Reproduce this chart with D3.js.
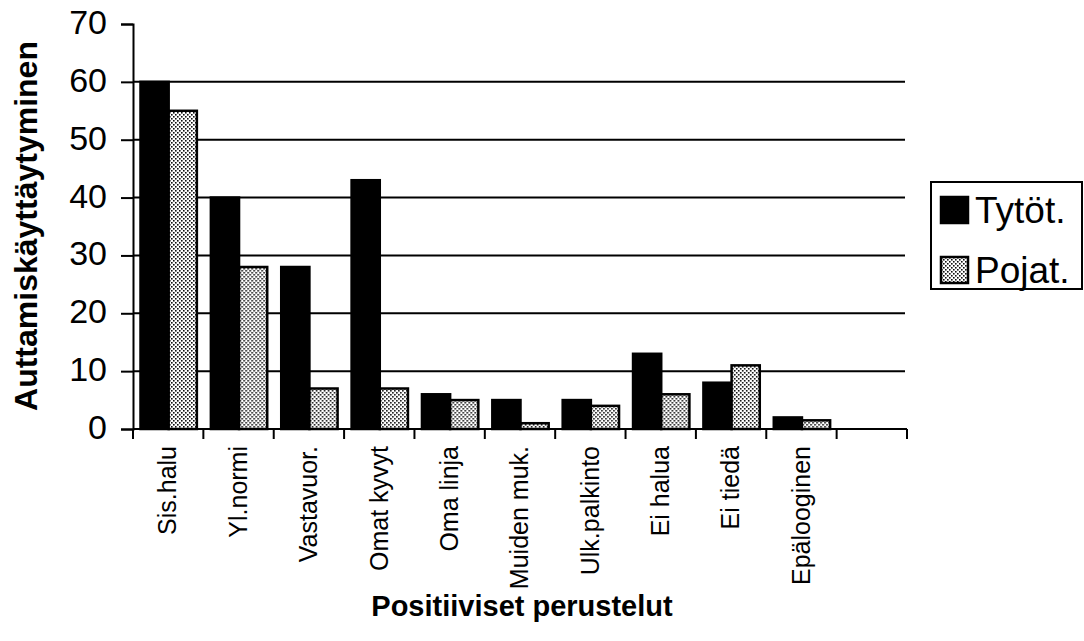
<!DOCTYPE html>
<html>
<head>
<meta charset="utf-8">
<script src="https://cdn.jsdelivr.net/npm/d3@7"></script>
<style>
  body { margin: 0; background: #fff; }
  text { font-family: Arial, "Liberation Sans", sans-serif; fill: #000; }
</style>
</head>
<body>
<div class="datavis"><svg></svg></div>
<script>
// categories (last slot is empty in the original)
var categories = ["Sis.halu", "Yl.normi", "Vastavuor.", "Omat kyvyt", "Oma linja",
  "Muiden muk.", "Ulk.palkinto", "Ei halua", "Ei tiedä", "Epälooginen", ""]
var seriesNames = ["Tytöt.", "Pojat."]
var tytot = [60, 40, 28, 43, 6, 5, 5, 13, 8, 2]
var pojat = [55, 28, 7, 7, 5, 1, 4, 6, 11, 1.5]
var yTicks = [0, 10, 20, 30, 40, 50, 60, 70]

var width = 1084
var height = 641
var margin = { top: 24, right: 177, bottom: 212, left: 133 }

var svg = d3.select(".datavis > svg")
  .attr("width", width)
  .attr("height", height)

// stipple pattern for the second series
var defs = svg.append("defs")
var pat = defs.append("pattern")
  .attr("id", "dots")
  .attr("width", 4).attr("height", 4)
  .attr("patternUnits", "userSpaceOnUse")
pat.append("rect").attr("width", 4).attr("height", 4).attr("fill", "#fff")
pat.append("rect").attr("x", 0).attr("y", 0).attr("width", 1.6).attr("height", 1.6).attr("fill", "#111")
pat.append("rect").attr("x", 2).attr("y", 2).attr("width", 1.6).attr("height", 1.6).attr("fill", "#111")

var x = d3.scaleBand()
  .domain(categories.map((d, i) => i))
  .range([margin.left, width - margin.right])
  .paddingInner(0)

var xSub = d3.scaleBand()
  .domain([0, 1])
  .range([7.5, x.bandwidth() - 6.5])
  .padding(0)

var y = d3.scaleLinear()
  .domain([0, 70])
  .range([height - margin.bottom, margin.top])

// gridlines (10..60)
svg.append("g").attr("class", "grid")
  .selectAll("line")
  .data(yTicks.filter(d => d > 0 && d < 70))
  .join("line")
  .attr("x1", margin.left)
  .attr("x2", width - margin.right - 2)
  .attr("y1", d => y(d))
  .attr("y2", d => y(d))
  .attr("stroke", "#000")
  .attr("stroke-width", 2)

// bars
var rows = categories.map((c, i) => ({ i: i, vals: [tytot[i], pojat[i]] }))
  .filter(d => d.vals[0] !== undefined)

var groups = svg.append("g").attr("class", "bars")
  .selectAll("g")
  .data(rows)
  .join("g")
  .attr("transform", d => `translate(${x(d.i)},0)`)

groups.selectAll("rect")
  .data(d => d.vals.map((v, k) => ({ k: k, v: v })))
  .join("rect")
  .attr("x", d => xSub(d.k))
  .attr("y", d => y(d.v))
  .attr("width", xSub.bandwidth())
  .attr("height", d => y(0) - y(d.v))
  .attr("fill", d => d.k === 0 ? "#000" : "url(#dots)")
  .attr("stroke", "#000")
  .attr("stroke-width", 2.5)

// y axis
var yAxis = d3.axisLeft(y).tickValues(yTicks).tickSize(12).tickPadding(14)
var yg = svg.append("g").attr("class", "yaxis")
  .attr("transform", `translate(${margin.left},0)`)
  .call(yAxis)
yg.select(".domain").attr("stroke-width", 2)
yg.selectAll(".tick line").attr("stroke-width", 2)
yg.selectAll(".tick text")
  .attr("font-size", 34)
  .attr("font-family", "Arial, 'Liberation Sans', sans-serif")
  .attr("dy", "0.28em")

// x axis with ticks at band boundaries
var xg = svg.append("g").attr("class", "xaxis")
xg.append("line")
  .attr("x1", margin.left).attr("x2", width - margin.right)
  .attr("y1", y(0)).attr("y2", y(0))
  .attr("stroke", "#000").attr("stroke-width", 2)
xg.selectAll(".xtick")
  .data(d3.range(categories.length + 1))
  .join("line")
  .attr("class", "xtick")
  .attr("x1", d => margin.left + d * x.bandwidth())
  .attr("x2", d => margin.left + d * x.bandwidth())
  .attr("y1", y(0))
  .attr("y2", y(0) + 10)
  .attr("stroke", "#000").attr("stroke-width", 2)
xg.selectAll(".xlabel")
  .data(categories)
  .join("text")
  .attr("class", "xlabel")
  .attr("transform", (d, i) => `translate(${x(i) + x.bandwidth() / 2},${y(0) + 17}) rotate(-90)`)
  .attr("text-anchor", "end")
  .attr("dy", "0.33em")
  .attr("font-size", 25)
  .text(d => d)

// axis titles
svg.append("text")
  .attr("transform", "translate(37,226) rotate(-90)")
  .attr("text-anchor", "middle")
  .attr("font-size", 32)
  .attr("font-weight", "bold")
  .text("Auttamiskäyttäytyminen")

svg.append("text")
  .attr("x", 522)
  .attr("y", 616)
  .attr("text-anchor", "middle")
  .attr("font-size", 29)
  .attr("font-weight", "bold")
  .text("Positiiviset perustelut")

// legend
var legend = svg.append("g").attr("class", "legend")
  .attr("transform", "translate(931,182)")
legend.append("rect")
  .attr("width", 151).attr("height", 107)
  .attr("fill", "#fff").attr("stroke", "#000").attr("stroke-width", 2)
var items = legend.selectAll(".item")
  .data(seriesNames)
  .join("g")
  .attr("class", "item")
  .attr("transform", (d, i) => `translate(10,${15 + i * 60})`)
items.append("rect")
  .attr("width", 27).attr("height", 26)
  .attr("fill", (d, i) => i === 0 ? "#000" : "url(#dots)")
  .attr("stroke", "#000").attr("stroke-width", 2.5)
items.append("text")
  .attr("x", 34)
  .attr("y", 26)
  .attr("font-size", 37)
  .text(d => d)
</script>
</body>
</html>
